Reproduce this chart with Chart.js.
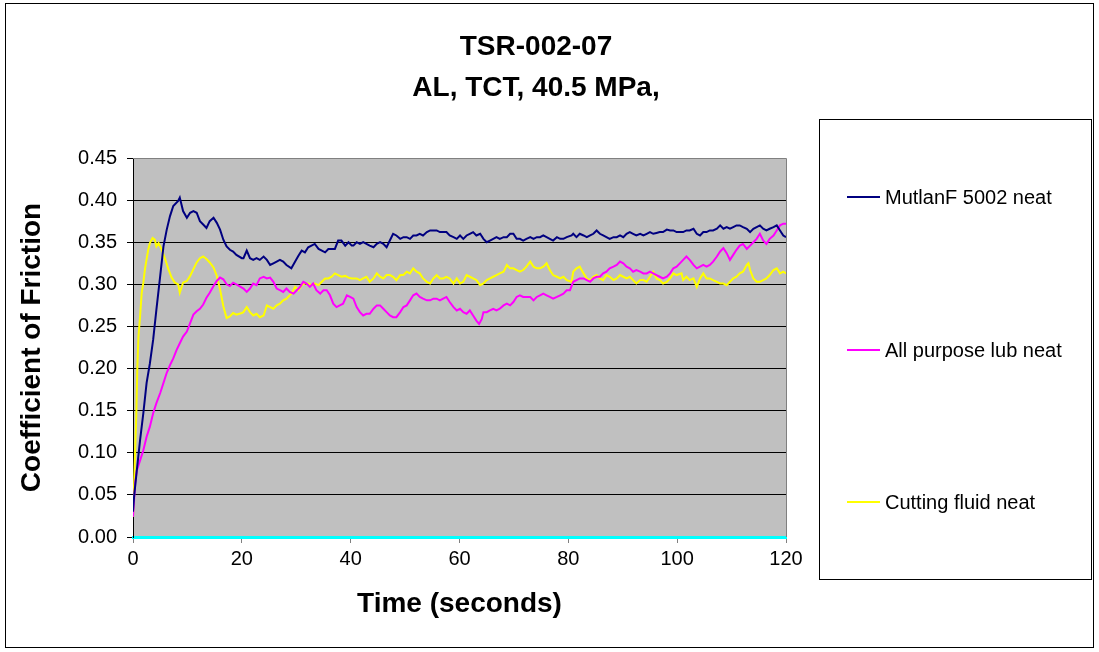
<!DOCTYPE html>
<html>
<head>
<meta charset="utf-8">
<title>TSR-002-07</title>
<script src="https://cdn.jsdelivr.net/npm/chart.js@4.4.0/dist/chart.umd.min.js"></script>
<style>
  html, body { margin: 0; padding: 0; background: #fff; }
  canvas { display: block; }
</style>
</head>
<body>
<canvas id="frictionChart" width="1099" height="652"></canvas>
<script>
const titleLines = ["TSR-002-07", "AL, TCT, 40.5 MPa,"];
const xAxisTitle = "Time (seconds)";
const yAxisTitle = "Coefficient of Friction";
const xTickValues = [0, 20, 40, 60, 80, 100, 120];
const yTickValues = [0, 0.05, 0.10, 0.15, 0.20, 0.25, 0.30, 0.35, 0.40, 0.45];

const seriesNames = ["MutlanF 5002 neat", "All purpose lub neat", "Cutting fluid neat"];

// MutlanF 5002 neat
const mutlanTime = [0, 0.2, 0.7, 1.3, 1.9, 2.5, 3.1, 3.7, 4.3, 5.0, 5.6, 6.2, 6.8, 7.4, 8.3, 8.6, 9.2, 9.9, 10.5, 11.1, 11.7, 12.3, 12.9, 13.5, 14.1, 14.8, 15.4, 16.0, 16.6, 17.2, 17.8, 18.4, 19.0, 20.0,
  20.3, 20.9, 21.5, 22.1, 22.7, 23.3, 24.0, 24.6, 25.2, 25.8, 26.4, 27.0, 27.6, 28.2, 29.1, 29.8, 30.4, 31.0, 31.6, 32.2, 32.8, 33.4, 34.1, 34.7, 35.3, 35.9, 36.5, 37.1, 37.7, 38.3, 39.0, 39.6, 40.2,
  40.5, 41.1, 41.7, 42.3, 42.9, 43.5, 44.2, 44.8, 45.4, 46.0, 46.6, 47.2, 47.8, 48.4, 49.1, 49.7, 50.3, 50.9, 51.5, 52.1, 52.7, 53.3, 54.0, 54.6, 55.2, 55.8, 56.4, 57.0, 57.6, 58.2, 58.9, 59.5, 60.1,
  60.7, 61.3, 61.9, 62.5, 63.1, 63.8, 64.4, 65.0, 65.6, 66.2, 66.8, 67.4, 68.1, 68.7, 69.3, 69.9, 70.5, 71.1, 71.7, 72.3, 73.0, 73.6, 74.2, 74.8, 75.4, 76.0, 76.6, 77.2, 77.9, 78.5, 79.1, 79.7, 80.6,
  80.9, 81.5, 82.1, 82.8, 83.4, 84.0, 84.6, 85.2, 85.8, 86.4, 87.0, 87.6, 88.3, 88.9, 89.5, 90.1, 90.7, 91.3, 91.9, 92.5, 93.2, 93.8, 94.4, 95.0, 95.6, 96.2, 96.8, 97.4, 98.1, 98.7, 99.3, 99.9, 100.8,
  101.1, 101.7, 102.3, 103.0, 103.6, 104.2, 104.8, 105.4, 106.0, 106.6, 107.3, 107.9, 108.5, 109.1, 109.7, 110.3, 110.9, 111.5, 112.1, 112.8, 113.4, 114.0, 114.6, 115.2, 115.8, 116.4, 117.0, 117.7, 118.3, 118.9, 119.5, 120.0];
const mutlanCof = [0.030, 0.048, 0.079, 0.115, 0.147, 0.183, 0.206, 0.234, 0.270, 0.310, 0.345, 0.365, 0.381, 0.393, 0.399, 0.403, 0.387, 0.379, 0.385, 0.387, 0.385, 0.375, 0.371, 0.367, 0.375, 0.379, 0.373, 0.365, 0.353, 0.345, 0.341, 0.339, 0.335, 0.331,
  0.331, 0.340, 0.331, 0.329, 0.331, 0.329, 0.333, 0.329, 0.323, 0.325, 0.327, 0.329, 0.327, 0.323, 0.319, 0.327, 0.334, 0.340, 0.338, 0.344, 0.346, 0.348, 0.342, 0.340, 0.338, 0.342, 0.342, 0.342, 0.352, 0.352, 0.346, 0.350, 0.346,
  0.346, 0.350, 0.348, 0.350, 0.348, 0.346, 0.344, 0.348, 0.350, 0.348, 0.344, 0.352, 0.360, 0.358, 0.354, 0.356, 0.356, 0.354, 0.358, 0.358, 0.360, 0.358, 0.362, 0.364, 0.364, 0.364, 0.362, 0.362, 0.362, 0.358, 0.356, 0.354, 0.358,
  0.354, 0.358, 0.360, 0.362, 0.358, 0.360, 0.354, 0.350, 0.352, 0.354, 0.356, 0.354, 0.356, 0.356, 0.360, 0.360, 0.354, 0.354, 0.352, 0.354, 0.356, 0.354, 0.356, 0.356, 0.358, 0.356, 0.354, 0.352, 0.356, 0.354, 0.354, 0.356, 0.358,
  0.360, 0.356, 0.360, 0.358, 0.356, 0.358, 0.360, 0.364, 0.360, 0.358, 0.356, 0.354, 0.356, 0.356, 0.358, 0.356, 0.360, 0.362, 0.360, 0.358, 0.360, 0.358, 0.360, 0.362, 0.360, 0.361, 0.362, 0.362, 0.365, 0.364, 0.364, 0.362, 0.362,
  0.362, 0.364, 0.364, 0.366, 0.360, 0.358, 0.362, 0.362, 0.364, 0.364, 0.366, 0.370, 0.366, 0.368, 0.366, 0.368, 0.370, 0.370, 0.368, 0.366, 0.362, 0.366, 0.368, 0.370, 0.366, 0.364, 0.366, 0.368, 0.370, 0.364, 0.358, 0.356];

// All purpose lub neat
const lubTime = [0, 0.4, 0.7, 1.3, 1.9, 2.5, 3.1, 3.7, 4.3, 5.0, 5.6, 6.2, 6.8, 7.4, 8.0, 8.6, 9.2, 9.9, 10.5, 11.1, 11.7, 12.3, 12.9, 13.5, 14.1, 14.8, 15.4, 16.0, 16.6, 17.2, 17.8, 18.4, 19.0, 20.0,
  20.3, 20.9, 21.5, 22.1, 22.7, 23.3, 24.0, 24.6, 25.2, 25.8, 26.4, 27.0, 27.6, 28.2, 28.8, 29.5, 30.1, 30.7, 31.3, 31.9, 32.5, 33.1, 33.7, 34.4, 35.0, 35.6, 36.2, 36.8, 37.4, 38.0, 38.6, 39.3, 39.9,
  40.5, 41.1, 41.7, 42.3, 42.9, 43.5, 44.2, 44.8, 45.4, 46.0, 46.6, 47.2, 47.8, 48.4, 49.1, 49.7, 50.3, 50.9, 51.5, 52.1, 52.7, 53.3, 54.0, 54.6, 55.2, 55.8, 56.4, 57.0, 57.6, 58.2, 58.9, 59.5, 60.1,
  60.7, 61.3, 61.9, 62.5, 63.1, 63.6, 64.1, 64.4, 65.0, 65.6, 66.2, 66.8, 67.4, 68.1, 68.7, 69.3, 69.9, 70.5, 71.1, 71.7, 72.3, 73.0, 73.6, 74.2, 74.8, 75.4, 76.0, 76.6, 77.2, 77.9, 78.5, 79.1, 79.7,
  80.3, 80.9, 81.5, 82.1, 82.8, 83.4, 84.0, 84.6, 85.2, 85.8, 86.4, 87.0, 87.6, 88.3, 88.9, 89.5, 90.1, 90.7, 91.3, 91.9, 92.5, 93.2, 93.8, 94.4, 95.0, 95.6, 96.2, 96.8, 97.4, 98.1, 98.7, 99.3, 99.9, 100.8,
  101.1, 101.7, 102.3, 103.0, 103.6, 104.2, 104.8, 105.4, 106.0, 106.6, 107.3, 107.9, 108.5, 109.1, 109.7, 110.3, 110.9, 111.5, 112.1, 112.8, 113.4, 114.0, 114.6, 115.2, 115.8, 116.4, 117.0, 117.7, 118.3, 118.9, 119.5, 120.0];
const lubCof = [0.024, 0.064, 0.079, 0.091, 0.103, 0.119, 0.131, 0.147, 0.159, 0.171, 0.183, 0.195, 0.204, 0.212, 0.222, 0.230, 0.238, 0.244, 0.254, 0.264, 0.268, 0.271, 0.276, 0.284, 0.290, 0.298, 0.304, 0.308, 0.306, 0.300, 0.298, 0.302, 0.300, 0.296,
  0.295, 0.291, 0.295, 0.301, 0.299, 0.307, 0.309, 0.307, 0.308, 0.303, 0.295, 0.293, 0.291, 0.295, 0.291, 0.289, 0.293, 0.297, 0.303, 0.301, 0.297, 0.301, 0.293, 0.289, 0.293, 0.293, 0.287, 0.277, 0.273, 0.275, 0.277, 0.287, 0.285,
  0.283, 0.273, 0.267, 0.263, 0.265, 0.265, 0.271, 0.275, 0.275, 0.271, 0.267, 0.263, 0.261, 0.261, 0.267, 0.273, 0.275, 0.281, 0.287, 0.289, 0.285, 0.283, 0.281, 0.281, 0.283, 0.283, 0.281, 0.283, 0.285, 0.279, 0.273, 0.269, 0.271,
  0.267, 0.265, 0.269, 0.263, 0.257, 0.253, 0.259, 0.267, 0.267, 0.269, 0.271, 0.269, 0.271, 0.275, 0.277, 0.275, 0.279, 0.285, 0.287, 0.285, 0.285, 0.285, 0.281, 0.285, 0.287, 0.289, 0.287, 0.285, 0.283, 0.285, 0.287, 0.289, 0.293,
  0.293, 0.303, 0.305, 0.307, 0.307, 0.305, 0.303, 0.307, 0.309, 0.309, 0.313, 0.315, 0.319, 0.321, 0.323, 0.327, 0.325, 0.321, 0.319, 0.315, 0.317, 0.315, 0.313, 0.313, 0.315, 0.313, 0.311, 0.309, 0.307, 0.309, 0.313, 0.319, 0.321, 0.327,
  0.329, 0.333, 0.329, 0.323, 0.319, 0.321, 0.323, 0.321, 0.323, 0.327, 0.333, 0.339, 0.343, 0.337, 0.329, 0.335, 0.341, 0.346, 0.348, 0.342, 0.346, 0.350, 0.354, 0.360, 0.352, 0.348, 0.354, 0.358, 0.364, 0.370, 0.372, 0.372];

// Cutting fluid neat
const fluidTime = [0, 0.3, 0.6, 0.8, 1.0, 1.3, 1.6, 1.9, 2.2, 2.5, 2.8, 3.1, 3.6, 4.0, 4.3, 4.7, 5.3, 5.9, 6.5, 7.1, 7.7, 8.3, 8.6, 9.2, 9.9, 10.5, 11.1, 11.7, 12.3, 12.9, 13.5, 14.1, 14.8, 15.4, 16.0, 16.6, 17.2, 17.8, 18.4, 19.0, 20.0,
  20.3, 20.9, 21.5, 22.1, 22.7, 23.3, 24.0, 24.6, 25.2, 25.8, 26.4, 27.0, 27.6, 28.2, 29.1, 29.8, 30.4, 31.0, 31.6, 32.2, 32.8, 33.4, 34.1, 34.7, 35.3, 35.9, 36.5, 37.1, 37.7, 38.3, 39.0, 39.6, 40.2,
  40.5, 41.1, 41.7, 42.3, 42.9, 43.5, 44.2, 44.8, 45.4, 46.0, 46.6, 47.2, 47.8, 48.4, 49.1, 49.7, 50.3, 50.9, 51.5, 52.1, 52.7, 53.3, 54.0, 54.6, 55.2, 55.8, 56.4, 57.0, 57.6, 58.2, 58.9, 59.5, 60.1,
  60.7, 61.3, 61.9, 62.5, 63.1, 63.8, 64.4, 65.0, 65.6, 66.2, 66.8, 67.4, 68.1, 68.7, 69.3, 69.9, 70.5, 71.1, 71.7, 72.3, 73.0, 73.6, 74.2, 74.8, 75.4, 76.0, 76.6, 77.2, 77.9, 78.5, 79.1, 79.7, 80.6,
  80.9, 81.5, 82.1, 82.8, 83.4, 84.0, 84.6, 85.2, 85.8, 86.4, 87.0, 87.6, 88.3, 88.9, 89.5, 90.1, 90.7, 91.3, 91.9, 92.5, 93.2, 93.8, 94.4, 95.0, 95.6, 96.2, 96.8, 97.4, 98.1, 98.7, 99.3, 99.9, 100.8,
  101.1, 101.7, 102.3, 103.0, 103.6, 104.2, 104.8, 105.4, 106.0, 106.6, 107.3, 107.9, 108.5, 109.1, 109.7, 110.3, 110.9, 111.5, 112.1, 112.8, 113.1, 113.4, 114.0, 114.6, 115.2, 115.8, 116.4, 117.0, 117.7, 118.3, 118.9, 119.5, 120.0];
const fluidCof = [0.024, 0.083, 0.143, 0.202, 0.238, 0.262, 0.290, 0.302, 0.318, 0.330, 0.341, 0.349, 0.355, 0.353, 0.345, 0.349, 0.341, 0.330, 0.318, 0.308, 0.302, 0.300, 0.290, 0.302, 0.304, 0.310, 0.318, 0.326, 0.331, 0.333, 0.330, 0.326, 0.320, 0.310, 0.294, 0.274, 0.260, 0.262, 0.266, 0.264, 0.266,
  0.267, 0.273, 0.267, 0.263, 0.265, 0.261, 0.263, 0.275, 0.273, 0.271, 0.275, 0.277, 0.281, 0.283, 0.289, 0.297, 0.293, 0.299, 0.301, 0.301, 0.299, 0.301, 0.299, 0.303, 0.307, 0.307, 0.309, 0.313, 0.311, 0.309, 0.310, 0.308, 0.307,
  0.307, 0.307, 0.305, 0.307, 0.309, 0.303, 0.307, 0.313, 0.309, 0.307, 0.311, 0.311, 0.309, 0.305, 0.311, 0.311, 0.315, 0.313, 0.319, 0.315, 0.313, 0.307, 0.303, 0.301, 0.307, 0.311, 0.307, 0.307, 0.309, 0.307, 0.301, 0.307, 0.301,
  0.303, 0.311, 0.309, 0.307, 0.305, 0.299, 0.301, 0.305, 0.307, 0.309, 0.311, 0.313, 0.315, 0.323, 0.319, 0.319, 0.317, 0.315, 0.317, 0.321, 0.327, 0.321, 0.319, 0.319, 0.321, 0.325, 0.317, 0.311, 0.309, 0.307, 0.309, 0.305, 0.303,
  0.315, 0.319, 0.321, 0.313, 0.307, 0.305, 0.309, 0.311, 0.307, 0.305, 0.311, 0.309, 0.305, 0.307, 0.311, 0.309, 0.307, 0.309, 0.305, 0.301, 0.305, 0.305, 0.303, 0.309, 0.315, 0.307, 0.305, 0.301, 0.303, 0.307, 0.313, 0.311, 0.313,
  0.305, 0.309, 0.305, 0.307, 0.297, 0.307, 0.313, 0.307, 0.307, 0.305, 0.303, 0.301, 0.301, 0.299, 0.303, 0.307, 0.309, 0.313, 0.315, 0.323, 0.325, 0.317, 0.307, 0.303, 0.303, 0.305, 0.307, 0.311, 0.317, 0.319, 0.313, 0.315, 0.313];

const seriesColors = ["#000080", "#FF00FF", "#FFFF00"];

function toPoints(times, values) {
    return times.map((t, i) => ({ x: t, y: values[i] }));
}

const FONT = "'Liberation Sans', Arial, sans-serif";

// plot background, frames, title and the boxed legend
const excelLook = {
    id: "excelLook",
    beforeDraw(chart) {
        const { ctx, chartArea: a } = chart;
        ctx.save();
        ctx.fillStyle = "#FFFFFF";
        ctx.fillRect(0, 0, chart.width, chart.height);
        ctx.fillStyle = "#C0C0C0";
        ctx.fillRect(a.left, a.top, a.right - a.left, a.bottom - a.top);
        ctx.restore();
    },
    beforeDatasetsDraw(chart) {
        const { ctx, chartArea: a } = chart;
        ctx.save();
        ctx.strokeStyle = "#808080";
        ctx.lineWidth = 1;
        ctx.beginPath();
        ctx.moveTo(a.left, a.top + 0.5);
        ctx.lineTo(a.right + 0.5, a.top + 0.5);
        ctx.lineTo(a.right + 0.5, a.bottom);
        ctx.stroke();
        ctx.restore();
    },
    afterDraw(chart) {
        const ctx = chart.ctx;
        ctx.save();
        // outer border
        ctx.strokeStyle = "#000000";
        ctx.lineWidth = 1;
        ctx.strokeRect(5.5, 3.5, 1088, 644);

        // title
        ctx.fillStyle = "#000000";
        ctx.font = "bold 28px " + FONT;
        ctx.textAlign = "center";
        ctx.textBaseline = "middle";
        ctx.fillText(titleLines[0], 536, 47);
        ctx.fillText(titleLines[1], 536, 88);

        // legend box
        ctx.strokeRect(819.5, 119.5, 272, 460);
        const rows = [197, 350, 502];
        ctx.font = "20px " + FONT;
        ctx.textAlign = "left";
        chart.data.datasets.forEach((ds, i) => {
            ctx.strokeStyle = ds.borderColor;
            ctx.lineWidth = 2;
            ctx.beginPath();
            ctx.moveTo(847, rows[i]);
            ctx.lineTo(880, rows[i]);
            ctx.stroke();
            ctx.fillStyle = "#000000";
            ctx.fillText(ds.label, 885, rows[i] + 1);
        });
        ctx.restore();
    }
};

new Chart(document.getElementById("frictionChart"), {
    type: "line",
    data: {
        datasets: [
            { label: seriesNames[0], data: toPoints(mutlanTime, mutlanCof), borderColor: seriesColors[0] },
            { label: seriesNames[1], data: toPoints(lubTime, lubCof), borderColor: seriesColors[1] },
            { label: seriesNames[2], data: toPoints(fluidTime, fluidCof), borderColor: seriesColors[2] }
        ]
    },
    options: {
        responsive: false,
        animation: false,
        devicePixelRatio: 1,
        parsing: false,
        elements: {
            point: { radius: 0 },
            line: { borderWidth: 2, tension: 0, fill: false }
        },
        layout: { padding: { left: 0, top: 158, right: 313, bottom: 0 } },
        plugins: {
            legend: { display: false },
            title: { display: false },
            tooltip: { enabled: false }
        },
        scales: {
            x: {
                type: "linear",
                min: 0,
                max: 120,
                afterFit(scale) { scale.height = 115; },
                afterBuildTicks(scale) { scale.ticks = xTickValues.map(v => ({ value: v })); },
                grid: { drawOnChartArea: false, drawTicks: true, tickLength: 6, tickColor: "#808080" },
                border: { display: true, color: "#00FFFF", width: 3 },
                ticks: {
                    color: "#000000",
                    padding: 4,
                    maxRotation: 0,
                    font: { family: FONT, size: 20 }
                },
                title: {
                    display: true,
                    text: xAxisTitle,
                    color: "#000000",
                    padding: { top: 0, bottom: 31 },
                    font: { family: FONT, size: 28, weight: "bold" }
                }
            },
            y: {
                type: "linear",
                min: 0,
                max: 0.45,
                afterFit(scale) { scale.width = 133; },
                afterBuildTicks(scale) { scale.ticks = yTickValues.map(v => ({ value: v })); },
                grid: {
                    color: c => (c.tick && c.tick.value === 0.45 ? "#808080" : "#000000"),
                    lineWidth: 1,
                    drawTicks: true,
                    tickLength: 6,
                    tickColor: "#000000"
                },
                border: { display: true, color: "#000000", width: 1 },
                ticks: {
                    color: "#000000",
                    padding: 10,
                    font: { family: FONT, size: 20 },
                    callback: v => v.toFixed(2)
                },
                title: {
                    display: true,
                    text: yAxisTitle,
                    color: "#000000",
                    padding: { top: 15, bottom: 0 },
                    font: { family: FONT, size: 28, weight: "bold" }
                }
            }
        }
    },
    plugins: [excelLook]
});
</script>
</body>
</html>
